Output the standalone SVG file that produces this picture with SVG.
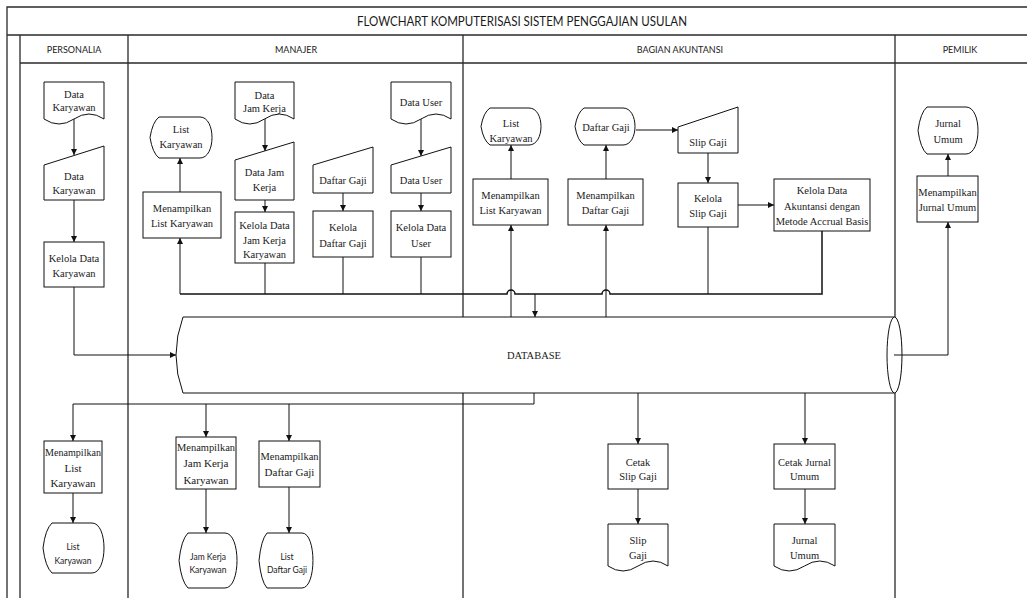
<svg xmlns="http://www.w3.org/2000/svg" width="1027" height="598" viewBox="0 0 1027 598">
<style>
.frame{fill:none;stroke:#2a2a2a;stroke-width:1.3}
.shape{fill:#fff;stroke:#111;stroke-width:1}
.ln{fill:none;stroke:#111;stroke-width:1}
.bus{fill:none;stroke:#111;stroke-width:1.5}
.t{font-family:"Liberation Serif","Times New Roman",serif;font-size:10.5px;fill:#1a1a1a;text-anchor:middle}
.tb{font-family:"Liberation Serif","Times New Roman",serif;font-size:11px;fill:#1a1a1a;text-anchor:middle}
.s{font-family:Lato,"Liberation Sans",sans-serif;font-size:8.5px;fill:#1a1a1a;text-anchor:middle}
.h{font-family:Lato,"Liberation Sans",sans-serif;font-size:9px;fill:#1a1a1a;text-anchor:middle}
.title{font-family:Lato,"Liberation Sans",sans-serif;font-size:14px;fill:#1a1a1a;text-anchor:middle}
</style>
<defs>
<marker id="arr" markerWidth="6" markerHeight="6" refX="6" refY="3" orient="auto" markerUnits="userSpaceOnUse">
<path d="M0,0 L6,3 L0,6 Z" fill="#111"/>
</marker>
</defs>

<g id="frame">
<path class="frame" d="M7,598 V7 H1027 M7,35 H1027 M20,35 V598 M20,63 H1027 M128,35 V598 M463,35 V598 M895,35 V598"/>
<text class="title" x="522" y="26" textLength="330" lengthAdjust="spacingAndGlyphs">FLOWCHART KOMPUTERISASI SISTEM PENGGAJIAN USULAN</text>
<text class="h" x="74" y="53">PERSONALIA</text>
<text class="h" x="296" y="53">MANAJER</text>
<text class="h" x="680" y="53">BAGIAN AKUNTANSI</text>
<text class="h" x="960" y="53">PEMILIK</text>
</g>

<g id="connectors">
<path class="ln" d="M74,119 V155" marker-end="url(#arr)"/>
<path class="ln" d="M74,200 V242" marker-end="url(#arr)"/>
<path class="ln" d="M74,287 V355 H176" marker-end="url(#arr)"/>
<path class="ln" d="M180,192 V158" marker-end="url(#arr)"/>
<path class="ln" d="M180,294 V238" marker-end="url(#arr)"/>
<path class="ln" d="M265,119 V151" marker-end="url(#arr)"/>
<path class="ln" d="M265,200 V212" marker-end="url(#arr)"/>
<path class="ln" d="M265,263 V294"/>
<path class="ln" d="M343,193 V211" marker-end="url(#arr)"/>
<path class="ln" d="M343,257 V294"/>
<path class="ln" d="M421,119 V156" marker-end="url(#arr)"/>
<path class="ln" d="M421,193 V211" marker-end="url(#arr)"/>
<path class="ln" d="M421,257 V294"/>
<path class="bus" d="M180,294 H507 A4,4 0 0 1 515,294 H602 A4,4 0 0 1 610,294 H822 V231"/>
<path class="ln" d="M535,294 V317" marker-end="url(#arr)"/>
<path class="ln" d="M511,179 V145" marker-end="url(#arr)"/>
<path class="ln" d="M511,317 V225" marker-end="url(#arr)"/>
<path class="ln" d="M606,179 V145" marker-end="url(#arr)"/>
<path class="ln" d="M606,317 V225" marker-end="url(#arr)"/>
<path class="ln" d="M636,130 H678" marker-end="url(#arr)"/>
<path class="ln" d="M708,153 V183" marker-end="url(#arr)"/>
<path class="ln" d="M738,205 H774" marker-end="url(#arr)"/>
<path class="ln" d="M708,227 V294"/>
<path class="ln" d="M894,355 H948 V222" marker-end="url(#arr)"/>
<path class="ln" d="M948,176 V154" marker-end="url(#arr)"/>
<path class="ln" d="M534,393 V404 H73 V441" marker-end="url(#arr)"/>
<path class="ln" d="M206,404 V437" marker-end="url(#arr)"/>
<path class="ln" d="M289,404 V441" marker-end="url(#arr)"/>
<path class="ln" d="M73,493 V523" marker-end="url(#arr)"/>
<path class="ln" d="M206,489 V533" marker-end="url(#arr)"/>
<path class="ln" d="M289,487 V533" marker-end="url(#arr)"/>
<path class="ln" d="M638,393 V444" marker-end="url(#arr)"/>
<path class="ln" d="M805,393 V444" marker-end="url(#arr)"/>
<path class="ln" d="M638,489 V524" marker-end="url(#arr)"/>
<path class="ln" d="M805,489 V524" marker-end="url(#arr)"/>
</g>

<g id="database">
<path class="shape" d="M183,317 H894 A7.5,38 0 0 1 894,393 H183 Q169,355 183,317 Z"/>
<ellipse class="shape" cx="894.5" cy="355" rx="7.5" ry="38"/>
<path class="ln" d="M894,355 H902"/>
<text class="t" x="534" y="359">DATABASE</text>
</g>

<g id="p-doc-data-karyawan">
<path class="shape" d="M44,82 H104 V119 Q89,109 74,119 T44,119 Z"/>
<text class="t" x="74" y="98">Data</text><text class="t" x="74" y="111">Karyawan</text>
</g>
<g id="p-input-data-karyawan">
<polygon class="shape" points="44,165 104,146 104,200 44,200"/>
<text class="t" x="74" y="180">Data</text><text class="t" x="74" y="194">Karyawan</text>
</g>
<g id="p-kelola-data-karyawan">
<rect class="shape" x="44" y="242" width="60" height="45"/>
<text class="t" x="74" y="262">Kelola Data</text><text class="t" x="74" y="277">Karyawan</text>
</g>
<g id="p-menampilkan-list-karyawan">
<rect class="shape" x="44" y="441" width="58" height="52"/>
<text class="tb" x="73" y="456" textLength="56" lengthAdjust="spacingAndGlyphs">Menampilkan</text><text class="tb" x="73" y="472">List</text><text class="tb" x="73" y="487">Karyawan</text>
</g>
<g id="p-disp-list-karyawan">
<path class="shape" d="M52,523 L92,523 C108,523 108,573 92,573 L52,573 Q45.4,567 43,548 Q45.4,529 52,523 Z"/>
<text class="s" x="73" y="550">List</text><text class="s" x="73" y="564">Karyawan</text>
</g>

<g id="m-disp-list-karyawan">
<path class="shape" d="M159,117 L200,117 C216,117 216,158 200,158 L159,158 Q152.5,153 150,137.5 Q152.5,122 159,117 Z"/>
<text class="t" x="181" y="133">List</text><text class="t" x="181" y="148">Karyawan</text>
</g>
<g id="m-menampilkan-list-karyawan">
<rect class="shape" x="143" y="192" width="78" height="46"/>
<text class="t" x="182" y="212">Menampilkan</text><text class="t" x="182" y="227">List Karyawan</text>
</g>
<g id="m-doc-data-jam-kerja">
<path class="shape" d="M235,82 H294 V119 Q279.3,109 264.5,119 T235,119 Z"/>
<text class="t" x="264.5" y="99">Data</text><text class="t" x="264.5" y="112">Jam Kerja</text>
</g>
<g id="m-input-data-jam-kerja">
<polygon class="shape" points="235,160 294,142 294,200 235,200"/>
<text class="t" x="264.5" y="176">Data Jam</text><text class="t" x="264.5" y="191">Kerja</text>
</g>
<g id="m-kelola-jam-kerja">
<rect class="shape" x="235" y="212" width="59" height="51"/>
<text class="t" x="264.5" y="229">Kelola Data</text><text class="t" x="264.5" y="244">Jam Kerja</text><text class="t" x="264.5" y="258">Karyawan</text>
</g>
<g id="m-input-daftar-gaji">
<polygon class="shape" points="313,165 373,147 373,193 313,193"/>
<text class="t" x="343" y="184">Daftar Gaji</text>
</g>
<g id="m-kelola-daftar-gaji">
<rect class="shape" x="313" y="211" width="60" height="46"/>
<text class="t" x="343" y="231">Kelola</text><text class="t" x="343" y="247">Daftar Gaji</text>
</g>
<g id="m-doc-data-user">
<path class="shape" d="M391,82 H451 V119 Q436,109 421,119 T391,119 Z"/>
<text class="t" x="421" y="106">Data User</text>
</g>
<g id="m-input-data-user">
<polygon class="shape" points="391,165 451,147 451,193 391,193"/>
<text class="t" x="421" y="184">Data User</text>
</g>
<g id="m-kelola-data-user">
<rect class="shape" x="391" y="211" width="60" height="46"/>
<text class="t" x="421" y="231">Kelola Data</text><text class="t" x="421" y="247">User</text>
</g>
<g id="m-menampilkan-jam-kerja">
<rect class="shape" x="176" y="437" width="60" height="52"/>
<text class="tb" x="206" y="451" textLength="58" lengthAdjust="spacingAndGlyphs">Menampilkan</text><text class="tb" x="206" y="467">Jam Kerja</text><text class="tb" x="206" y="484">Karyawan</text>
</g>
<g id="m-disp-jam-kerja">
<path class="shape" d="M188,533 L225,533 C241,533 241,588 225,588 L188,588 Q181.3,581.4 179,560.5 Q181.3,539.6 188,533 Z"/>
<text class="s" x="208" y="560">Jam Kerja</text><text class="s" x="208" y="573">Karyawan</text>
</g>
<g id="m-menampilkan-daftar-gaji">
<rect class="shape" x="259" y="441" width="61" height="46"/>
<text class="tb" x="289.5" y="460" textLength="58" lengthAdjust="spacingAndGlyphs">Menampilkan</text><text class="tb" x="289.5" y="476">Daftar Gaji</text>
</g>
<g id="m-disp-daftar-gaji">
<path class="shape" d="M267,533 L302,533 C316.6,533 316.6,588 302,588 L267,588 Q261.1,581.4 259,560.5 Q261.1,539.6 267,533 Z"/>
<text class="s" x="287" y="560">List</text><text class="s" x="287" y="573">Daftar Gaji</text>
</g>

<g id="a-disp-list-karyawan">
<path class="shape" d="M490,108 L529,108 C545,108 545,145 529,145 L490,145 Q483.4,140.6 481,126.5 Q483.4,112.4 490,108 Z"/>
<text class="t" x="511" y="127">List</text><text class="t" x="511" y="142">Karyawan</text>
</g>
<g id="a-menampilkan-list-karyawan">
<rect class="shape" x="473" y="179" width="75" height="46"/>
<text class="t" x="510.5" y="199">Menampilkan</text><text class="t" x="510.5" y="214">List Karyawan</text>
</g>
<g id="a-disp-daftar-gaji">
<path class="shape" d="M584,108 L623,108 C639,108 639,145 623,145 L584,145 Q577.4,140.6 575,126.5 Q577.4,112.4 584,108 Z"/>
<text class="t" x="606" y="131">Daftar Gaji</text>
</g>
<g id="a-menampilkan-daftar-gaji">
<rect class="shape" x="568" y="179" width="75" height="46"/>
<text class="t" x="605.5" y="199">Menampilkan</text><text class="t" x="605.5" y="214">Daftar Gaji</text>
</g>
<g id="a-input-slip-gaji">
<polygon class="shape" points="678,127 738,107 738,153 678,153"/>
<text class="t" x="708" y="146">Slip Gaji</text>
</g>
<g id="a-kelola-slip-gaji">
<rect class="shape" x="678" y="183" width="60" height="44"/>
<text class="t" x="708" y="202">Kelola</text><text class="t" x="708" y="217">Slip Gaji</text>
</g>
<g id="a-kelola-akuntansi">
<rect class="shape" x="774" y="179" width="96" height="52"/>
<text class="t" x="822" y="194">Kelola Data</text><text class="t" x="822" y="210">Akuntansi dengan</text><text class="t" x="822" y="225">Metode Accrual Basis</text>
</g>
<g id="a-cetak-slip-gaji">
<rect class="shape" x="608" y="444" width="60" height="45"/>
<text class="t" x="638" y="466">Cetak</text><text class="t" x="638" y="480">Slip Gaji</text>
</g>
<g id="a-doc-slip-gaji">
<path class="shape" d="M608,524 H668 V566 Q653,556 638,566 T608,566 Z"/>
<text class="t" x="638" y="544">Slip</text><text class="t" x="638" y="559">Gaji</text>
</g>
<g id="a-cetak-jurnal-umum">
<rect class="shape" x="774" y="444" width="61" height="45"/>
<text class="t" x="804.5" y="466">Cetak Jurnal</text><text class="t" x="804.5" y="480">Umum</text>
</g>
<g id="a-doc-jurnal-umum">
<path class="shape" d="M774,524 H835 V566 Q819.8,556 804.5,566 T774,566 Z"/>
<text class="t" x="804.5" y="544">Jurnal</text><text class="t" x="804.5" y="559">Umum</text>
</g>

<g id="o-disp-jurnal-umum">
<path class="shape" d="M927,107 L966,107 C982,107 982,154 966,154 L927,154 Q920.4,148.4 918,130.5 Q920.4,112.6 927,107 Z"/>
<text class="t" x="948" y="127">Jurnal</text><text class="t" x="948" y="143">Umum</text>
</g>
<g id="o-menampilkan-jurnal-umum">
<rect class="shape" x="917" y="176" width="61" height="46"/>
<text class="t" x="947.5" y="196">Menampilkan</text><text class="t" x="947.5" y="211">Jurnal Umum</text>
</g>
</svg>
